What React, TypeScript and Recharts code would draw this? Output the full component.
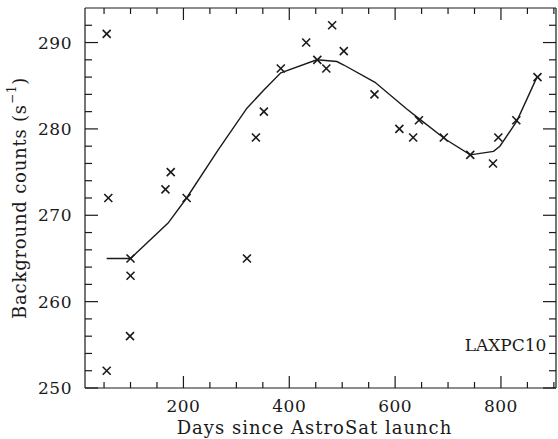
import React from 'react';
import { ComposedChart, Line, Scatter, XAxis, YAxis, ReferenceDot } from 'recharts';

// observed background rates
const obsDays = [55, 58, 55, 100, 100, 99, 166, 176, 206, 320, 337, 352, 384, 432, 453, 470, 481, 503, 561, 608, 634, 645, 692, 742, 785, 795, 829, 869];
const obsCounts = [291, 272, 252, 265, 263, 256, 273, 275, 272, 265, 279, 282, 287, 290, 288, 287, 292, 289, 284, 280, 279, 281, 279, 277, 276, 279, 281, 286];

// smooth model curve
const fitDays = [55, 100, 171, 206, 266, 320, 352, 384, 452, 490, 503, 562, 622, 647, 695, 742, 786, 798, 830, 868];
const fitCounts = [265, 265, 269.1, 272, 277.6, 282.4, 284.5, 286.5, 288, 287.8, 287.4, 285.4, 282.3, 281.1, 278.8, 277, 277.4, 278, 280.9, 286];

const xTicks = [50, 100, 150, 200, 250, 300, 350, 400, 450, 500, 550, 600, 650, 700, 750, 800, 850, 900];
const xMajor = [200, 400, 600, 800];
const yTicks = [250, 252, 254, 256, 258, 260, 262, 264, 266, 268, 270, 272, 274, 276, 278, 280, 282, 284, 286, 288, 290, 292];
const yMajor = [250, 260, 270, 280, 290];

const observations = obsDays.map((day, i) => ({ day, count: obsCounts[i] }));
const fit = fitDays.map((day, i) => ({ day, count: fitCounts[i] }));

const INK = '#1a1a1a';
const FONT = '"DejaVu Serif", serif';
// frame edges (chart is 558x439, plot box from the margins/axis sizes below)
const PLOT_TOP = 8;
const PLOT_RIGHT = 556;

const Cross = (props: any) => {
  const { cx, cy } = props;
  const s = 4;
  return (
    <g stroke={INK} strokeWidth={1.6}>
      <line x1={cx - s} y1={cy - s} x2={cx + s} y2={cy + s} />
      <line x1={cx - s} y1={cy + s} x2={cx + s} y2={cy - s} />
    </g>
  );
};

// bottom ticks also draw the mirrored tick on the top edge
const BottomTick = (props: any) => {
  const { x, y, payload } = props;
  const len = xMajor.includes(payload.value) ? 12 : 6;
  return (
    <g stroke={INK} strokeWidth={1.2}>
      <line x1={x} x2={x} y1={y} y2={y - len} />
      <line x1={x} x2={x} y1={PLOT_TOP} y2={PLOT_TOP + len} />
      {len === 12 ? (
        <text x={x} y={y + 24} textAnchor="middle" fontFamily={FONT} fontSize={17} letterSpacing={0.5} fill={INK} stroke="none">
          {payload.value}
        </text>
      ) : null}
    </g>
  );
};

// left ticks also draw the mirrored tick on the right edge
const LeftTick = (props: any) => {
  const { x, y, payload } = props;
  const len = yMajor.includes(payload.value) ? 13 : 7;
  return (
    <g stroke={INK} strokeWidth={1.2}>
      <line x1={x} x2={x + len} y1={y} y2={y} />
      <line x1={PLOT_RIGHT} x2={PLOT_RIGHT - len} y1={y} y2={y} />
      {len === 13 ? (
        <text x={x - 13} y={y + 6} textAnchor="end" fontFamily={FONT} fontSize={17} letterSpacing={0.5} fill={INK} stroke="none">
          {payload.value}
        </text>
      ) : null}
    </g>
  );
};

const XTitle = ({ viewBox }: any) => (
  <text x={viewBox.x + viewBox.width / 2 - 6} y={434} textAnchor="middle" fontFamily={FONT} fontSize={18} letterSpacing={1} fill={INK}>
    Days since AstroSat launch
  </text>
);

const YTitle = ({ viewBox }: any) => {
  const cx = 19;
  const cy = viewBox.y + viewBox.height / 2;
  return (
    <text
      x={cx}
      y={cy}
      transform={`rotate(-90, ${cx}, ${cy})`}
      textAnchor="middle"
      dominantBaseline="central"
      fontFamily={FONT}
      fontSize={18}
      letterSpacing={0.8}
      fill={INK}
    >
      Background counts (s
      <tspan dy={-7} fontSize={12}>−1</tspan>
      <tspan dy={7}>)</tspan>
    </text>
  );
};

const Tag = ({ viewBox }: any) => (
  <text x={viewBox.x + viewBox.width} y={viewBox.y + viewBox.height / 2 + 6} textAnchor="end" fontFamily={FONT} fontSize={17} fill={INK}>
    LAXPC10
  </text>
);

export default function App() {
  return (
    <div style={{ position: 'absolute', left: 0, top: 0, background: '#fff' }}>
      <ComposedChart width={558} height={439} margin={{ top: 6, right: 0, bottom: 0, left: 0 }}>
        <XAxis
          xAxisId="bottom"
          dataKey="day"
          type="number"
          domain={[14, 904]}
          ticks={xTicks}
          interval={0}
          height={51}
          tickSize={0}
          tickMargin={0}
          tick={<BottomTick />}
          axisLine={{ stroke: INK, strokeWidth: 1.2 }}
          tickLine={false}
          label={<XTitle />}
        />
        <XAxis
          xAxisId="top"
          orientation="top"
          type="number"
          domain={[14, 904]}
          height={2}
          tick={false}
          tickLine={false}
          axisLine={{ stroke: INK, strokeWidth: 1.2 }}
        />
        <YAxis
          yAxisId="left"
          dataKey="count"
          type="number"
          domain={[250, 294]}
          ticks={yTicks}
          interval={0}
          width={85}
          tickSize={0}
          tickMargin={0}
          tick={<LeftTick />}
          axisLine={{ stroke: INK, strokeWidth: 1.2 }}
          tickLine={false}
          label={<YTitle />}
        />
        <YAxis
          yAxisId="right"
          orientation="right"
          type="number"
          domain={[250, 294]}
          width={2}
          tick={false}
          tickLine={false}
          axisLine={{ stroke: INK, strokeWidth: 1.2 }}
        />
        <Line
          xAxisId="bottom"
          yAxisId="left"
          data={fit}
          dataKey="count"
          type="linear"
          stroke={INK}
          strokeWidth={1.4}
          dot={false}
          isAnimationActive={false}
        />
        <Scatter
          xAxisId="bottom"
          yAxisId="left"
          data={observations}
          dataKey="count"
          shape={<Cross />}
          isAnimationActive={false}
        />
        <ReferenceDot
          xAxisId="bottom"
          yAxisId="left"
          x={884}
          y={255}
          r={1}
          fill="none"
          stroke="none"
          label={<Tag />}
        />
      </ComposedChart>
    </div>
  );
}
